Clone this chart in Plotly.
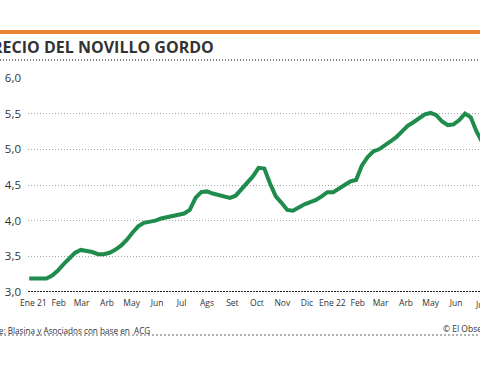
import pandas as pd
import plotly.graph_objects as go

# ---- data (weekly price, US$/kg) ----
start_week = "2020-12-27"
prices = [3.19, 3.19, 3.18, 3.19, 3.23, 3.30, 3.39, 3.48, 3.55, 3.59,
          3.58, 3.56, 3.53, 3.53, 3.55, 3.59, 3.65, 3.73, 3.83, 3.92,
          3.97, 3.98, 4.00, 4.03, 4.05, 4.06, 4.08, 4.10, 4.15, 4.32,
          4.40, 4.41, 4.38, 4.36, 4.34, 4.32, 4.35, 4.44, 4.51, 4.62,
          4.74, 4.73, 4.52, 4.34, 4.25, 4.15, 4.14, 4.19, 4.23, 4.26,
          4.29, 4.34, 4.40, 4.40, 4.45, 4.51, 4.55, 4.57, 4.77, 4.89,
          4.97, 5.00, 5.05, 5.11, 5.17, 5.26, 5.33, 5.38, 5.44, 5.49,
          5.51, 5.48, 5.39, 5.34, 5.35, 5.41, 5.50, 5.45, 5.25, 5.10]
weeks = pd.date_range(start_week, periods=len(prices), freq="7D")

month_ticks = ["2021-01-01", "2021-02-01", "2021-03-01", "2021-04-01", "2021-05-01",
               "2021-06-01", "2021-07-01", "2021-08-01", "2021-09-01", "2021-10-01",
               "2021-11-01", "2021-12-01", "2022-01-01", "2022-02-01", "2022-03-01",
               "2022-04-01", "2022-05-01", "2022-06-01"]
month_labels = ["Ene 21", "Feb", "Mar", "Arb", "May", "Jun", "Jul", "Ags", "Set",
                "Oct", "Nov", "Dic", "Ene 22", "Feb", "Mar", "Arb", "May", "Jun"]
next_tick, next_label = "2022-07-01", "Jul"

y_ticks = [3.0, 3.5, 4.0, 4.5, 5.0, 5.5, 6.0]
y_labels = ["3,0", "3,5", "4,0", "4,5", "5,0", "5,5", "6,0"]

title = "PRECIO DEL NOVILLO GORDO"
source = "Fuente: Blasina y Asociados con base en\u00a0 ACG"
credit = "© El Observador"

# ---- layout geometry ----
W, H = 480, 365
L, R, T, B = 28, 0, 78, 73
x_range = [pd.Timestamp("2020-12-25 12:00"), pd.Timestamp("2022-06-30 07:00")]
pw, ph = W - L - R, H - T - B


def px_x(p):
    return (p - L) / pw


def px_y(p):
    return (H - B - p) / ph


def date_to_paper(d):
    d = pd.Timestamp(d)
    return (d - x_range[0]) / (x_range[1] - x_range[0])


FONT = "Open Sans"
DARK = "#333333"

fig = go.Figure()
fig.add_trace(go.Scatter(
    x=weeks, y=prices, mode="lines",
    line=dict(color="#1f8b4c", width=4),
    hoverinfo="skip", showlegend=False,
))

fig.update_layout(
    width=W, height=H,
    margin=dict(l=L, r=R, t=T, b=B),
    paper_bgcolor="white", plot_bgcolor="white",
    font=dict(family=FONT, color=DARK),
    xaxis=dict(
        range=x_range, type="date",
        tickvals=month_ticks, ticktext=month_labels,
        showgrid=False, zeroline=False, showline=False,
        tickfont=dict(size=8.5, color=DARK, family=FONT),
        ticks="", ticklabelstandoff=4,
    ),
    yaxis=dict(
        range=[3.0, 6.0], tickvals=y_ticks, ticktext=y_labels,
        showgrid=True, gridcolor="#a8a8a8", griddash="1px,2px", gridwidth=1,
        zeroline=False, showline=False,
        tickfont=dict(size=11.5, color=DARK, family=FONT),
        ticks="", ticklabelstandoff=6,
    ),
    shapes=[
        dict(type="line", xref="paper", yref="paper", x0=px_x(-5), x1=px_x(490),
             y0=px_y(32), y1=px_y(32), line=dict(color="#e8832e", width=4)),
        dict(type="line", xref="paper", yref="paper", x0=px_x(0), x1=px_x(480),
             y0=px_y(60), y1=px_y(60), line=dict(color="#555555", width=1.5, dash="1px,2px")),
        dict(type="line", xref="paper", yref="y", x0=0, x1=1, y0=3.0, y1=3.0,
             line=dict(color="#222222", width=2, dash="2px,1px"), layer="above"),
        dict(type="line", xref="paper", yref="paper", x0=px_x(0), x1=px_x(480),
             y0=px_y(335), y1=px_y(335), line=dict(color="#666666", width=1.2, dash="2px,2px")),
    ],
    annotations=[
        dict(text="<b>" + title + "</b>", xref="paper", yref="paper",
             x=px_x(216), y=px_y(47.5), xanchor="right", yanchor="middle",
             showarrow=False, font=dict(size=16, color=DARK, family=FONT)),
        dict(text=source, xref="paper", yref="paper",
             x=px_x(152), y=px_y(330), xanchor="right", yanchor="middle",
             showarrow=False, font=dict(size=8.2, color=DARK, family=FONT)),
        dict(text=credit, xref="paper", yref="paper",
             x=px_x(441), y=px_y(328.5), xanchor="left", yanchor="middle",
             showarrow=False, font=dict(size=8.5, color=DARK, family=FONT)),
        dict(text=next_label, xref="paper", yref="paper",
             x=date_to_paper(next_tick), y=px_y(304), xanchor="center", yanchor="middle",
             showarrow=False, font=dict(size=8.5, color=DARK, family=FONT)),
    ],
)

fig.write_html("out.html",
               config={"displayModeBar": False},
               post_script="document.body.style.margin='0px';"
                           "document.body.style.overflow='hidden';")
